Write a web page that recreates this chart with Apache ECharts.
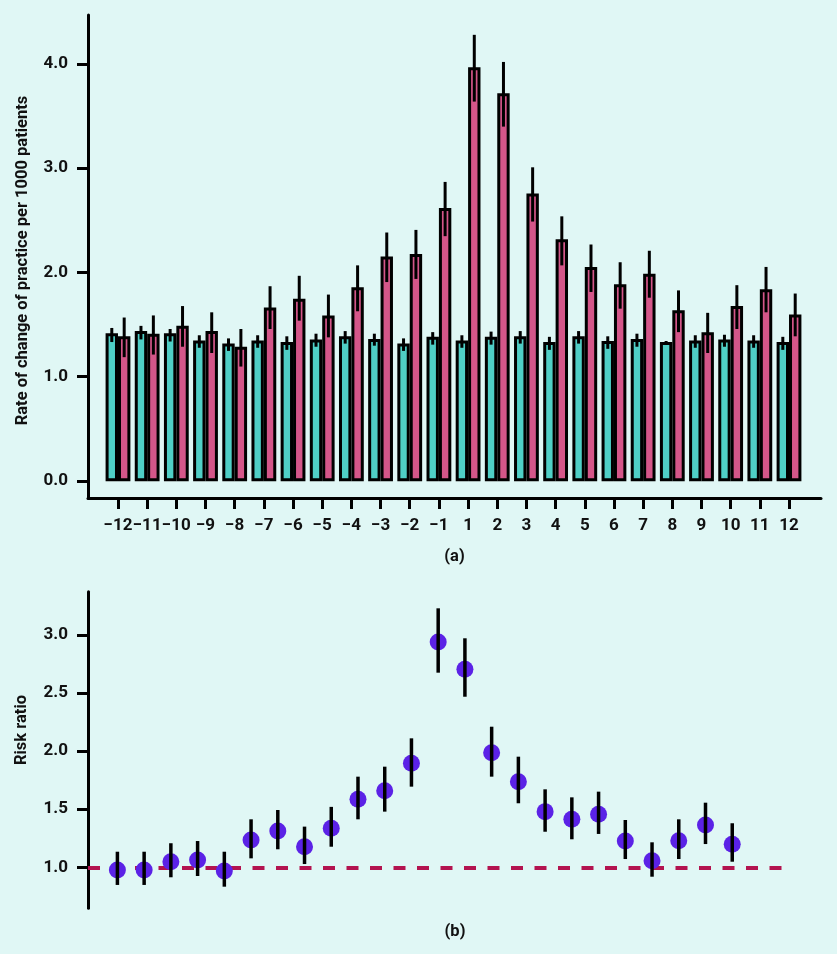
<!DOCTYPE html>
<html><head><meta charset="utf-8">
<script src="https://cdn.jsdelivr.net/npm/echarts@6/dist/echarts.min.js"></script>
<style>html,body{margin:0;padding:0;background:#e0f7f5}#c{width:837px;height:954px}</style>
</head><body><div id="c"></div>
<script>
// Months relative to event
const months = ['−12','−11','−10','−9','−8','−7','−6','−5','−4','−3','−2','−1','1','2','3','4','5','6','7','8','9','10','11','12'];
// Panel (a): teal series
const tealRate = [1.42,1.44,1.42,1.35,1.32,1.35,1.335,1.36,1.39,1.365,1.32,1.385,1.35,1.385,1.39,1.335,1.39,1.345,1.365,1.335,1.35,1.36,1.35,1.335];
const tealLow  = [1.335,1.36,1.34,1.28,1.25,1.28,1.26,1.29,1.32,1.30,1.25,1.31,1.28,1.31,1.32,1.26,1.32,1.27,1.29,1.325,1.28,1.29,1.28,1.26];
const tealHigh = [1.47,1.49,1.46,1.40,1.37,1.40,1.39,1.415,1.44,1.415,1.37,1.43,1.40,1.435,1.44,1.385,1.44,1.39,1.415,1.345,1.40,1.405,1.40,1.385];
// Panel (a): pink series
const pinkRate = [1.39,1.415,1.49,1.44,1.29,1.665,1.75,1.59,1.86,2.155,2.18,2.62,3.97,3.72,2.76,2.32,2.055,1.89,1.99,1.64,1.43,1.68,1.84,1.60];
const pinkLow  = [1.19,1.215,1.29,1.23,1.10,1.46,1.54,1.38,1.63,1.91,1.94,2.35,3.64,3.40,2.49,2.07,1.815,1.655,1.76,1.43,1.23,1.46,1.62,1.39];
const pinkHigh = [1.57,1.59,1.68,1.62,1.46,1.87,1.97,1.79,2.07,2.385,2.41,2.87,4.28,4.02,3.01,2.54,2.27,2.10,2.21,1.83,1.615,1.88,2.055,1.80];
// Panel (b): risk ratio
const riskRatio = [0.977,0.977,1.048,1.063,0.968,1.235,1.312,1.177,1.336,1.585,1.659,1.895,2.94,2.704,1.986,1.737,1.479,1.413,1.456,1.226,1.057,1.229,1.364,1.198];
const rrLow     = [0.848,0.848,0.914,0.925,0.833,1.077,1.155,1.028,1.177,1.413,1.479,1.694,2.675,2.468,1.78,1.551,1.306,1.241,1.287,1.071,0.919,1.071,1.20,1.048];
const rrHigh    = [1.134,1.134,1.207,1.226,1.134,1.413,1.493,1.35,1.52,1.78,1.866,2.11,3.229,2.971,2.21,1.952,1.671,1.602,1.651,1.407,1.215,1.413,1.556,1.379];
// Tick ranges
const yTickMinA = 0, yTickMaxA = 4, yTickStepA = 1;
const yTickMinB = 1, yTickMaxB = 3, yTickStepB = 0.5;
const refLine = 1;

const FONT = 'Roboto';
const gapRatio = 0.15;
const chart = echarts.init(document.getElementById('c'), null, {renderer: 'canvas'});

function errBar(sign) {
  return function (params, api) {
    const x = api.value(0);
    const lo = api.coord([x, api.value(1)]);
    const hi = api.coord([x, api.value(2)]);
    const band = api.size([1, 0])[0];
    const dx = sign * band * (1 - gapRatio) / 4;
    return {type: 'line', shape: {x1: lo[0] + dx, y1: lo[1], x2: hi[0] + dx, y2: hi[1]},
      style: {stroke: '#000', lineWidth: 3}};
  };
}
function errBarB(params, api) {
  const x = api.value(0);
  const lo = api.coord([x, api.value(1)]);
  const hi = api.coord([x, api.value(2)]);
  return {type: 'line', shape: {x1: lo[0], y1: lo[1], x2: hi[0], y2: hi[1]},
    style: {stroke: '#000', lineWidth: 3.5}};
}
const labelStyle = {color: '#111', fontFamily: FONT, fontWeight: 'bold', fontSize: 17};
const nameStyle = {color: '#111', fontFamily: FONT, fontWeight: 'bold', fontSize: 16.5};
const blackLine = {show: true, onZero: false, lineStyle: {color: '#000', width: 3}};
const tickStyle = {show: true, length: 11, lineStyle: {color: '#000', width: 3}};
const gText = {fill: '#111', fontFamily: FONT, fontWeight: 'bold', fontSize: 16.5, align: 'center', verticalAlign: 'middle'};

chart.setOption({
  backgroundColor: '#e0f7f5',
  animation: false,
  grid: [
    {left: 103.4, right: 33.4, top: 15, bottom: 456},      // 0: bars
    {left: 88, right: 16, top: 15, bottom: 456},           // 1: full-width x axis line
    {left: 88, right: 49.7, top: 591.7, bottom: 45.7},     // 2: risk ratio
    {left: 88, right: 16, top: 63.8, bottom: 473},         // 3: ticks for (a)
    {left: 88, right: 49.7, top: 634.9, bottom: 86.7}      // 4: ticks for (b)
  ],
  xAxis: [
    {type: 'category', gridIndex: 0, data: months, boundaryGap: true,
     axisLine: {show: false, onZero: false},
     axisTick: Object.assign({alignWithLabel: true}, tickStyle),
     axisLabel: Object.assign({margin: 19, interval: 0}, labelStyle)},
    {type: 'value', gridIndex: 1, min: 0, max: 1,
     axisLine: blackLine,
     axisTick: {show: false}, axisLabel: {show: false}, splitLine: {show: false},
     name: '(a)', nameLocation: 'middle', nameGap: 50, nameTextStyle: nameStyle},
    {type: 'value', gridIndex: 2, min: -1.1, max: 25.06, show: false},
    {type: 'value', gridIndex: 3, min: 0, max: 1, show: false},
    {type: 'value', gridIndex: 4, min: 0, max: 1, show: false}
  ],
  yAxis: [
    {type: 'value', gridIndex: 0, min: -0.16, max: 4.47, offset: 15.4,
     axisLine: blackLine, axisTick: {show: false}, axisLabel: {show: false}, splitLine: {show: false},
     name: 'Rate of change of practice per 1000 patients', nameLocation: 'middle', nameGap: 57,
     nameTextStyle: Object.assign({padding: [0, 8, 0, 0]}, nameStyle)},
    {type: 'value', gridIndex: 1, show: false},
    {type: 'value', gridIndex: 2, min: 0.647, max: 3.372,
     axisLine: blackLine, axisTick: {show: false}, axisLabel: {show: false}, splitLine: {show: false}},
    {type: 'value', gridIndex: 3, min: yTickMinA, max: yTickMaxA, interval: yTickStepA,
     axisLine: {show: false}, axisTick: tickStyle, splitLine: {show: false},
     axisLabel: Object.assign({margin: 20, formatter: v => v.toFixed(1)}, labelStyle)},
    {type: 'value', gridIndex: 4, min: yTickMinB, max: yTickMaxB, interval: yTickStepB,
     axisLine: {show: false}, axisTick: tickStyle, splitLine: {show: false},
     axisLabel: Object.assign({margin: 20, formatter: v => v.toFixed(1)}, labelStyle)}
  ],
  graphic: [
    {type: 'text', x: 455, y: 932, style: Object.assign({text: '(b)'}, gText)},
    {type: 'text', x: 21.5, y: 730, rotation: Math.PI / 2,
     style: Object.assign({text: 'Risk ratio'}, gText)}
  ],
  series: [
    {type: 'bar', name: 'teal', xAxisIndex: 0, yAxisIndex: 0, data: tealRate,
     barGap: '0%', barCategoryGap: (gapRatio * 100) + '%',
     itemStyle: {color: '#4fcfc6', borderColor: '#000', borderWidth: 3}},
    {type: 'bar', name: 'pink', xAxisIndex: 0, yAxisIndex: 0, data: pinkRate,
     barGap: '0%', barCategoryGap: (gapRatio * 100) + '%',
     itemStyle: {color: '#d45689', borderColor: '#000', borderWidth: 3}},
    {type: 'custom', xAxisIndex: 0, yAxisIndex: 0, z: 5,
     data: months.map((m, i) => [i, tealLow[i], tealHigh[i]]),
     encode: {x: 0, y: [1, 2]}, renderItem: errBar(-1)},
    {type: 'custom', xAxisIndex: 0, yAxisIndex: 0, z: 5,
     data: months.map((m, i) => [i, pinkLow[i], pinkHigh[i]]),
     encode: {x: 0, y: [1, 2]}, renderItem: errBar(1)},
    {type: 'scatter', xAxisIndex: 2, yAxisIndex: 2, z: 3,
     data: riskRatio.map((v, i) => [i, v]), symbolSize: 17,
     itemStyle: {color: '#5b22e6', opacity: 1},
     markLine: {silent: true, symbol: 'none', label: {show: false}, z: 1,
       lineStyle: {color: '#b3134f', width: 4, type: [12, 11.5]},
       data: [{yAxis: refLine}]}},
    {type: 'custom', xAxisIndex: 2, yAxisIndex: 2, z: 5,
     data: riskRatio.map((v, i) => [i, rrLow[i], rrHigh[i]]),
     encode: {x: 0, y: [1, 2]}, renderItem: errBarB}
  ]
});
</script>
</body></html>
